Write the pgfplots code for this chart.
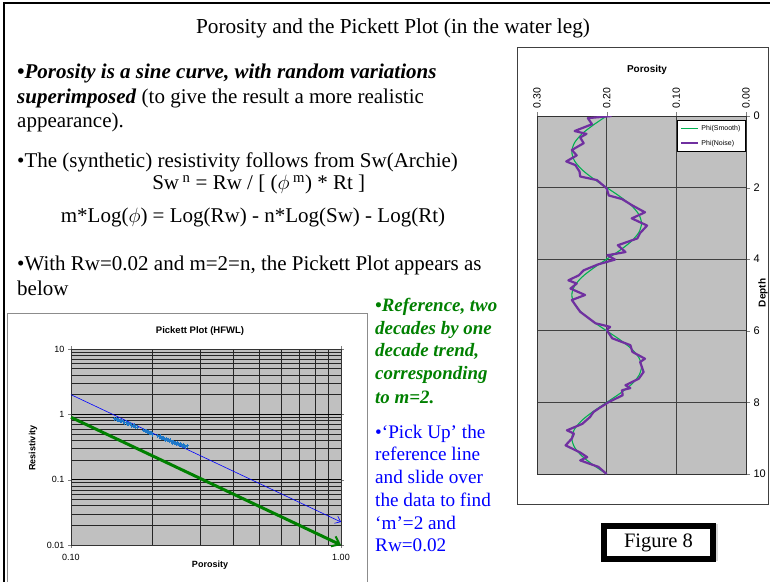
\documentclass[border=0pt]{standalone}
\usepackage{fontspec}
\setmainfont{Liberation Serif}
\newfontfamily\arial{Liberation Sans}
\usepackage{pgfplots}
\pgfplotsset{compat=1.18}
\usetikzlibrary{arrows.meta}
\definecolor{plotgray}{RGB}{192,192,192}
\definecolor{refgreen}{RGB}{0,128,0}
\definecolor{ptblue}{RGB}{30,120,200}
\definecolor{smoothgreen}{RGB}{0,176,80}
\definecolor{noisepurple}{RGB}{112,48,160}
\begin{document}
\begin{tikzpicture}[x=1pt,y=1pt]
\useasboundingbox (0,0) rectangle (770,581);
\fill[white] (0,0) rectangle (770,581);
% slide frame
\draw[line width=2.5pt] (4,-2) -- (4,578) -- (772,578);
% chart area frames
\draw[black!45, line width=1pt] (7,-2) rectangle (367,267);
\draw[black!75, line width=1pt] (517,77) rectangle (768,533);

% title
\node[anchor=base, inner sep=0pt, font=\fontsize{21.3}{25}\selectfont] at (393,547) {Porosity and the Pickett Plot (in the water leg)};

% main text
\begin{scope}[every node/.style={anchor=base west, inner sep=0pt, font=\fontsize{21}{25}\selectfont}]
\node at (17,502.7) {\textbf{\textit{•Porosity is a sine curve, with random variations}}};
\node at (17,477.7) {\textbf{\textit{superimposed}} (to give the result a more realistic};
\node at (17,453.7) {appearance).};
\node at (17,413.7) {•The (synthetic) resistivity follows from Sw(Archie)};
\node at (17,310) {•With Rw=0.02 and m=2=n, the Pickett Plot appears as};
\node at (17,285) {below};
\end{scope}
\node[anchor=base, inner sep=0pt, font=\fontsize{21}{25}\selectfont] at (258.7,391) {Sw\,\textsuperscript{n} = Rw / [ ($\phi$\,\textsuperscript{m}) * Rt ]};
\node[anchor=base, inner sep=0pt, font=\fontsize{21}{25}\selectfont] at (253,358.7) {m*Log($\phi$) = Log(Rw) - n*Log(Sw) - Log(Rt)};

% green text
\begin{scope}[every node/.style={anchor=base west, inner sep=0pt, font=\fontsize{18.9}{22}\selectfont\bfseries\itshape, text=refgreen}]
\node at (375,269.3) {•Reference, two};
\node at (375,246.7) {decades by one};
\node at (375,224.3) {decade trend,};
\node at (375,201.7) {corresponding};
\node at (375,177.7) {to m=2.};
\end{scope}
% blue text
\begin{scope}[every node/.style={anchor=base west, inner sep=0pt, font=\fontsize{19.2}{22}\selectfont, text=blue}]
\node at (375,142.7) {•‘Pick Up’ the};
\node at (375,120.3) {reference line};
\node at (375,97.7) {and slide over};
\node at (375,75) {the data to find};
\node at (375,51.7) {‘m’=2 and};
\node at (375,29.3) {Rw=0.02};
\end{scope}

% Figure 8 box
\fill[black!15] (713,20) rectangle (718,57);
\draw[line width=6pt, fill=white] (604,22) rectangle (713,55);
\node[font=\fontsize{20.5}{24}\selectfont, inner sep=0pt] at (658.5,38.5) {Figure 8};

% ---------------- Pickett plot ----------------
\begin{axis}[
  at={(71pt,36pt)}, anchor=south west, width=270pt, height=196pt, scale only axis,
  xmode=log, ymode=log, xmin=0.1, xmax=1, ymin=0.01, ymax=10,
  axis background/.style={fill=plotgray},
  xtick={0.1,1}, xticklabels={0.10,1.00},
  ytick={0.01,0.1,1,10}, yticklabels={0.01,0.1,1,10},
  minor xtick={0.2,0.3,0.4,0.5,0.6,0.7,0.8,0.9},
  minor ytick={0.02,0.03,0.04,0.05,0.06,0.07,0.08,0.09,0.2,0.3,0.4,0.5,0.6,0.7,0.8,0.9,2,3,4,5,6,7,8,9},
  grid=both,
  major grid style={black, line width=0.6pt},
  minor grid style={black!85, line width=0.5pt},
  tick align=outside, major tick length=3pt, minor tick length=0pt,
  axis line style={black!80, line width=0.8pt},
  tick label style={font=\arial\fontsize{9}{10}\selectfont},
  xticklabel style={yshift=-3pt},
  clip=false,
]
\addplot[only marks, mark=+, mark size=2pt, ptblue, line width=1pt] coordinates {
(0.145,0.86) (0.147,0.84) (0.149,0.81) (0.150,0.83) (0.152,0.79) (0.154,0.80)
(0.156,0.77) (0.158,0.74) (0.160,0.76) (0.162,0.71) (0.164,0.70) (0.166,0.72)
(0.168,0.67) (0.170,0.66) (0.172,0.68) (0.174,0.63) (0.176,0.64)
(0.186,0.57) (0.188,0.55) (0.190,0.56) (0.192,0.53) (0.194,0.54) (0.196,0.51)
(0.198,0.52) (0.200,0.49)
(0.210,0.47) (0.212,0.45) (0.214,0.46) (0.216,0.44) (0.218,0.43) (0.220,0.44)
(0.222,0.42) (0.224,0.41) (0.226,0.42) (0.228,0.40) (0.230,0.41) (0.232,0.39)
(0.234,0.40) (0.236,0.38) (0.238,0.37) (0.240,0.38) (0.242,0.36) (0.244,0.37)
(0.246,0.35) (0.248,0.36) (0.250,0.35) (0.252,0.34) (0.254,0.35) (0.256,0.34)
(0.258,0.33) (0.260,0.34) (0.263,0.33) (0.266,0.32) (0.270,0.33)
};
\addplot[blue, line width=0.6pt, -{Straight Barb[length=5pt,width=8pt]}] coordinates {(0.1,2.0) (1,0.0225)};
\addplot[refgreen, line width=3pt, -{Straight Barb[length=7pt,width=11pt,line width=2pt]}] coordinates {(0.1,0.9) (1,0.01)};
\end{axis}
\node[font=\arial\bfseries\fontsize{9.5}{11}\selectfont] at (200,250) {Pickett Plot (HFWL)};
\node[font=\arial\bfseries\fontsize{9}{11}\selectfont, rotate=90] at (33,133) {Resistivity};
\node[font=\arial\bfseries\fontsize{9}{11}\selectfont] at (210,16) {Porosity};

% ---------------- Porosity vs depth ----------------
\begin{axis}[
  at={(537pt,107pt)}, anchor=south west, width=209pt, height=358pt, scale only axis,
  xmin=0, xmax=0.3, ymin=0, ymax=10, x dir=reverse, y dir=reverse,
  axis background/.style={fill=plotgray},
  xtick={0,0.1,0.2,0.3}, xticklabels={0.00,0.10,0.20,0.30},
  ytick={0,2,4,6,8,10}, yticklabels={0,2,4,6,8,10},
  xtick pos=upper, xticklabel pos=upper,
  ytick pos=upper, yticklabel pos=upper,
  xticklabel style={rotate=90, anchor=west, font=\arial\fontsize{10.5}{11}\selectfont},
  yticklabel style={font=\arial\fontsize{11}{12}\selectfont},
  grid=major, major grid style={black!75, line width=0.7pt},
  tick align=outside, major tick length=4pt,
  axis line style={black!80, line width=0.8pt},
  legend style={at={(0.998,0.988)}, anchor=north east, font=\arial\fontsize{7}{8}\selectfont,
    draw=black, fill=white, row sep=4pt, inner sep=3pt},
  legend cell align=left,
]
\addplot[smoothgreen, line width=1.1pt, smooth] coordinates {
(0.2000,0) (0.2191,0.25) (0.2354,0.5) (0.2462,0.75) (0.2500,1) (0.2462,1.25) (0.2354,1.5) (0.2191,1.75)
(0.2000,2) (0.1809,2.25) (0.1646,2.5) (0.1538,2.75) (0.1500,3) (0.1538,3.25) (0.1646,3.5) (0.1809,3.75)
(0.2000,4) (0.2191,4.25) (0.2354,4.5) (0.2462,4.75) (0.2500,5) (0.2462,5.25) (0.2354,5.5) (0.2191,5.75)
(0.2000,6) (0.1809,6.25) (0.1646,6.5) (0.1538,6.75) (0.1500,7) (0.1538,7.25) (0.1646,7.5) (0.1809,7.75)
(0.2000,8) (0.2191,8.25) (0.2354,8.5) (0.2462,8.75) (0.2500,9) (0.2462,9.25) (0.2354,9.5) (0.2191,9.75)
(0.2000,10)
};
\addlegendentry{Phi(Smooth)}
\addplot[noisepurple, line width=2.2pt, line join=round] coordinates {
(0.193,0.00) (0.227,0.06) (0.221,0.23) (0.246,0.42) (0.229,0.50) (0.238,0.60)
(0.233,0.76) (0.250,0.95) (0.243,1.10) (0.258,1.27) (0.245,1.37) (0.239,1.55)
(0.238,1.69) (0.214,1.79) (0.200,2.02) (0.197,2.22) (0.178,2.32) (0.163,2.50)
(0.145,2.69) (0.164,2.86) (0.142,3.06) (0.152,3.27) (0.156,3.42) (0.184,3.61)
(0.173,3.80) (0.199,3.89) (0.188,4.01) (0.213,4.15) (0.233,4.31) (0.240,4.45)
(0.255,4.59) (0.243,4.68) (0.252,4.82) (0.231,5.00) (0.250,5.14) (0.238,5.47)
(0.216,5.79) (0.195,5.89) (0.200,5.98) (0.192,6.21) (0.166,6.40) (0.163,6.59)
(0.145,6.78) (0.152,6.87) (0.147,7.15) (0.154,7.34) (0.173,7.52) (0.166,7.60)
(0.178,7.66) (0.177,7.80) (0.197,7.99) (0.210,8.15) (0.219,8.27) (0.224,8.41)
(0.235,8.60) (0.257,8.78) (0.247,8.87) (0.250,9.01) (0.259,9.20) (0.238,9.40)
(0.228,9.53) (0.238,9.62) (0.212,9.80) (0.200,10.00)
};
\addlegendentry{Phi(Noise)}
\end{axis}
\node[font=\arial\bfseries\fontsize{10}{12}\selectfont] at (647,511) {Porosity};
\node[font=\arial\bfseries\fontsize{10}{12}\selectfont, rotate=90] at (763,288) {Depth};
\end{tikzpicture}
\end{document}
